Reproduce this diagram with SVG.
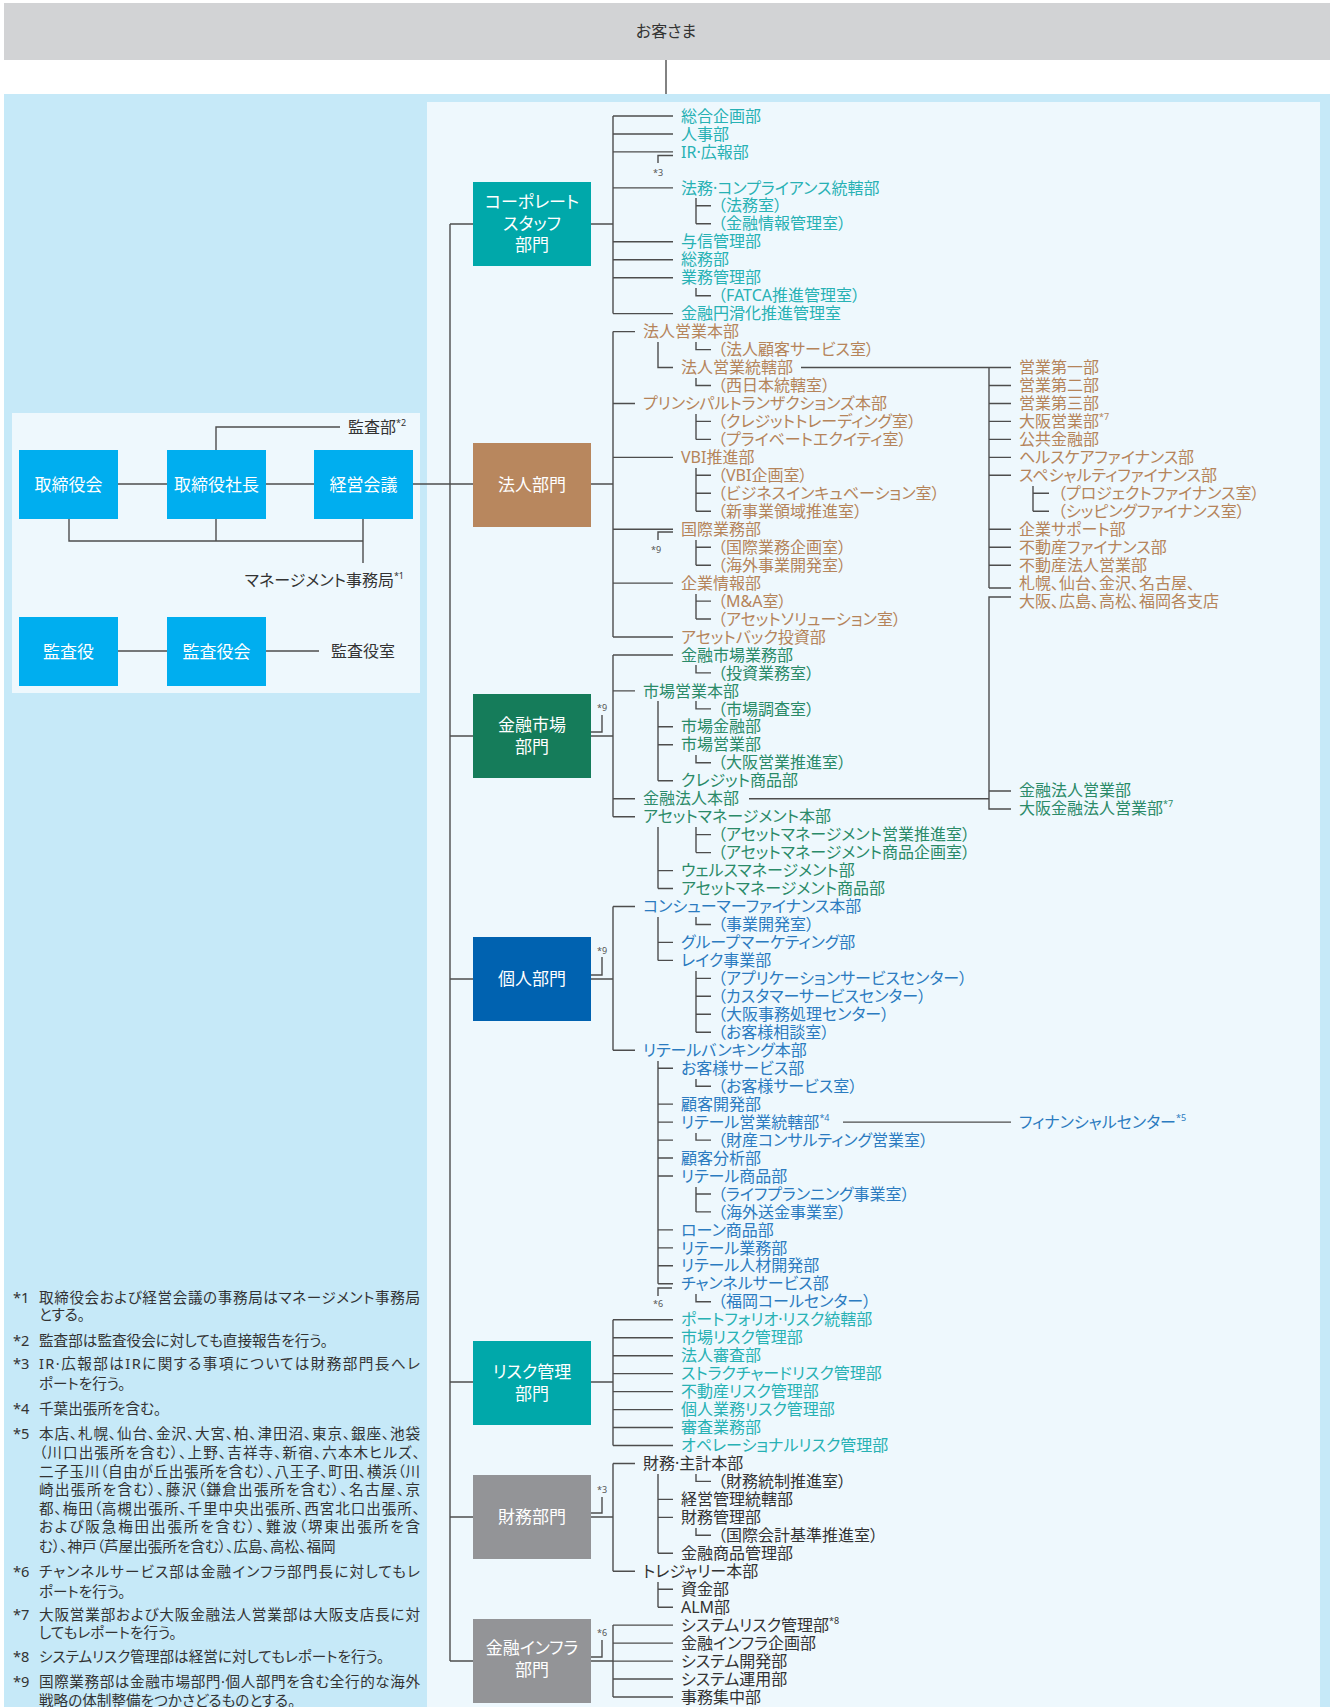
<svg xmlns="http://www.w3.org/2000/svg" width="1334" height="1707" viewBox="0 0 1334 1707">
<style>
text{font-family:"Noto Sans","Noto Sans CJK JP",sans-serif;font-feature-settings:"palt";}
.t{font-size:16px}
.teal{fill:#27b1b4}.brown{fill:#b5845a}.green{fill:#2a8a68}.blue{fill:#2b7bc0}.dark{fill:#333}
.bx{font-size:17px;fill:#fff;text-anchor:middle}
.sup{font-size:9px}
.mk{font-size:9px;fill:#555;text-anchor:middle}
.ln{stroke:#4d4d4d;stroke-width:1.4;fill:none}
.fn{font-size:14.6px;fill:#333}
.c-teal{fill:#00a8aa}.c-brown{fill:#b8875e}.c-green{fill:#157c5a}.c-blue{fill:#0062b0}.c-gray{fill:#939497}.c-cyan{fill:#00aeef}
</style>
<rect x="0" y="0" width="1334" height="1707" fill="#fff"/>
<rect x="4" y="94" width="1326" height="1613" fill="#c6e9f8"/>
<rect x="427" y="102" width="893" height="1605" fill="#eef8fd"/>
<rect x="12" y="413" width="408" height="280" fill="#eef8fd"/>

<g id="customer">
<rect x="4" y="3" width="1326" height="57" fill="#d2d3d5"/>
<text x="666" y="37" class="t dark" text-anchor="middle">お客さま</text>
</g>

<g id="connectors" class="ln">
<path d="M666 60V94"/>
<path d="M118 484H167M266 484H314M216 450V427H340M69 519V541H363M216 519V541M363 519V563M118 651H167M266 651H319M413 484H473"/>
<path d="M450 224V1661M450 224H473M450 736H473M450 979H473M450 1382H473M450 1517H473M450 1661H473"/>
<path d="M591 224H613M613 116V313.6M613 116H673M613 134H673M613 151.9H673M613 187.9H673M613 241.8H673M613 259.7H673M613 277.7H673M613 313.6H673"/>
<path d="M673 155.5H658V163M696 198V223.8M696 205.8H711M696 223.8H711M696 288V295.7H711"/>
<path d="M591 484H613M613 331.6V637M613 331.6H635M613 403.5H635M613 457.4H673M613 529.2H673M613 583.1H673M613 637H673"/>
<path d="M658 342V367.5H673M696 342V349.6H711M696 378V385.5H711M696 414V439.4M696 421.4H711M696 439.4H711M696 468V511.3M696 475.3H711M696 493.3H711M696 511.3H711M673 532H658V540M696 540V565.2M696 547.2H711M696 565.2H711M696 594V619M696 601.1H711M696 619H711"/>
<path d="M801 367.5H1011M989 367.5V588M989 385.5H1011M989 403.5H1011M989 421.4H1011M989 439.4H1011M989 457.4H1011M989 475.3H1011M989 529.2H1011M989 547.2H1011M989 565.2H1011M989 588H1011M1033 486V511.3M1033 493.3H1049M1033 511.3H1049"/>
<path d="M1011 597H989V809H1011M989 791H1011M749 798.7H989"/>
<path d="M591 736H613M613 655V816.7M613 655H673M613 690.9H635M613 798.7H635M613 816.7H635M591 732H602V715"/>
<path d="M696 665V672.9H711M658 701V780.7M658 726.8H673M658 744.8H673M658 780.7H673M696 701V708.9H711M696 755V762.8H711M658 827V888.5M658 870.6H673M658 888.5H673M696 827V852.6M696 834.6H711M696 852.6H711"/>
<path d="M591 979H613M613 906.5V1050.2M613 906.5H635M613 1050.2H635M591 975H602V957"/>
<path d="M658 917V960.4M658 942.4H673M658 960.4H673M696 917V924.5H711M696 971V1032.3M696 978.4H711M696 996.3H711M696 1014.3H711M696 1032.3H711"/>
<path d="M658 1061V1283.8M658 1068.2H673M658 1104.1H673M658 1122.1H673M658 1140.1H673M658 1158H673M658 1176H673M658 1229.9H673M658 1247.9H673M658 1265.8H673M658 1283.8H673M696 1079V1086.2H711M696 1133V1140.1H711M696 1187V1211.9M696 1194H711M696 1211.9H711M696 1294V1301.8H711M672 1288H658V1296M843 1122.1H1011"/>
<path d="M591 1382H613M613 1319.7V1445.5M613 1319.7H673M613 1337.7H673M613 1355.7H673M613 1373.6H673M613 1391.6H673M613 1409.6H673M613 1427.5H673M613 1445.5H673"/>
<path d="M591 1517H613M613 1463.5V1571.2M613 1463.5H635M613 1571.2H635M591 1513H602V1497M658 1474V1553.3M658 1499.4H673M658 1517.4H673M658 1553.3H673M696 1474V1481.4H711M696 1528V1535.3H711M658 1582V1607.2M658 1589.2H673M658 1607.2H673"/>
<path d="M591 1661H613M613 1625.1V1697M613 1625.1H673M613 1643.1H673M613 1661.1H673M613 1679H673M613 1697H673M591 1657H602V1640"/>
</g>

<g id="markers">
<text x="658" y="175.5" class="mk">*3</text>
<text x="656" y="553" class="mk">*9</text>
<text x="658" y="1307" class="mk">*6</text>
<text x="602" y="711" class="mk">*9</text>
<text x="602" y="954" class="mk">*9</text>
<text x="602" y="1493" class="mk">*3</text>
<text x="602" y="1636" class="mk">*6</text>
</g>

<g id="governance">
<g id="n-torishimariyakukai"><rect x="19" y="450" width="99" height="69" class="c-cyan"/><text x="68.5" y="490.5" class="bx">取締役会</text></g>
<g id="n-shacho"><rect x="167" y="450" width="99" height="69" class="c-cyan"/><text x="216.5" y="490.5" class="bx">取締役社長</text></g>
<g id="n-keiei"><rect x="314" y="450" width="99" height="69" class="c-cyan"/><text x="363.5" y="490.5" class="bx">経営会議</text></g>
<g id="n-kansayaku"><rect x="19" y="617" width="99" height="69" class="c-cyan"/><text x="68.5" y="657.5" class="bx">監査役</text></g>
<g id="n-kansayakukai"><rect x="167" y="617" width="99" height="69" class="c-cyan"/><text x="216.5" y="657.5" class="bx">監査役会</text></g>
<g id="n-kansabu"><text x="348" y="433" class="t dark">監査部<tspan class="sup" dy="-7">*2</tspan></text></g>
<g id="n-jimukyoku"><text x="404" y="586" class="t dark" text-anchor="end">マネージメント事務局<tspan class="sup" dy="-7">*1</tspan></text></g>
<g id="n-kansayakushitsu"><text x="331" y="657" class="t dark">監査役室</text></g>
</g>

<g id="divisions">
<g id="d-corp"><rect x="473" y="182" width="118" height="84" class="c-teal"/><text x="532" y="208" class="bx">コーポレート</text><text x="532" y="229.5" class="bx">スタッフ</text><text x="532" y="251" class="bx">部門</text></g>
<g id="d-houjin"><rect x="473" y="443" width="118" height="84" class="c-brown"/><text x="532" y="490.5" class="bx">法人部門</text></g>
<g id="d-market"><rect x="473" y="694" width="118" height="84" class="c-green"/><text x="532" y="731" class="bx">金融市場</text><text x="532" y="752.5" class="bx">部門</text></g>
<g id="d-kojin"><rect x="473" y="937" width="118" height="84" class="c-blue"/><text x="532" y="985" class="bx">個人部門</text></g>
<g id="d-risk"><rect x="473" y="1341" width="118" height="84" class="c-teal"/><text x="532" y="1378" class="bx">リスク管理</text><text x="532" y="1399.5" class="bx">部門</text></g>
<g id="d-zaimu"><rect x="473" y="1475" width="118" height="84" class="c-gray"/><text x="532" y="1523" class="bx">財務部門</text></g>
<g id="d-infra"><rect x="473" y="1619" width="118" height="84" class="c-gray"/><text x="532" y="1654" class="bx">金融インフラ</text><text x="532" y="1675.5" class="bx">部門</text></g>
</g>

<g id="list-corp" class="t teal">
<text x="681" y="121.6">総合企画部</text>
<text x="681" y="139.6">人事部</text>
<text x="681" y="157.5">IR·広報部</text>
<text x="681" y="193.5">法務·コンプライアンス統轄部</text>
<text x="718" y="211.4">（法務室）</text>
<text x="718" y="229.4">（金融情報管理室）</text>
<text x="681" y="247.4">与信管理部</text>
<text x="681" y="265.3">総務部</text>
<text x="681" y="283.3">業務管理部</text>
<text x="718" y="301.3">（FATCA推進管理室）</text>
<text x="681" y="319.2">金融円滑化推進管理室</text>
</g>

<g id="list-houjin" class="t brown">
<text x="643" y="337.2">法人営業本部</text>
<text x="718" y="355.2">（法人顧客サービス室）</text>
<text x="681" y="373.1">法人営業統轄部</text>
<text x="718" y="391.1">（西日本統轄室）</text>
<text x="643" y="409.1">プリンシパルトランザクションズ本部</text>
<text x="718" y="427">（クレジットトレーディング室）</text>
<text x="718" y="445">（プライベートエクイティ室）</text>
<text x="681" y="463">VBI推進部</text>
<text x="718" y="480.9">（VBI企画室）</text>
<text x="718" y="498.9">（ビジネスインキュベーション室）</text>
<text x="718" y="516.9">（新事業領域推進室）</text>
<text x="681" y="534.8">国際業務部</text>
<text x="718" y="552.8">（国際業務企画室）</text>
<text x="718" y="570.8">（海外事業開発室）</text>
<text x="681" y="588.7">企業情報部</text>
<text x="718" y="606.7">（M&amp;A室）</text>
<text x="718" y="624.6">（アセットソリューション室）</text>
<text x="681" y="642.6">アセットバック投資部</text>
</g>

<g id="list-houjin-sales" class="t brown">
<text x="1019" y="373.1">営業第一部</text>
<text x="1019" y="391.1">営業第二部</text>
<text x="1019" y="409.1">営業第三部</text>
<text x="1019" y="427">大阪営業部<tspan class="sup" dy="-7">*7</tspan></text>
<text x="1019" y="445">公共金融部</text>
<text x="1019" y="463">ヘルスケアファイナンス部</text>
<text x="1019" y="480.9">スペシャルティファイナンス部</text>
<text x="1058" y="498.9">（プロジェクトファイナンス室）</text>
<text x="1058" y="516.9">（シッピングファイナンス室）</text>
<text x="1019" y="534.8">企業サポート部</text>
<text x="1019" y="552.8">不動産ファイナンス部</text>
<text x="1019" y="570.8">不動産法人営業部</text>
<text x="1019" y="588.7">札幌、仙台、金沢、名古屋、</text>
<text x="1019" y="606.7">大阪、広島、高松、福岡各支店</text>
</g>

<g id="list-market" class="t green">
<text x="681" y="660.6">金融市場業務部</text>
<text x="718" y="678.5">（投資業務室）</text>
<text x="643" y="696.5">市場営業本部</text>
<text x="718" y="714.5">（市場調査室）</text>
<text x="681" y="732.4">市場金融部</text>
<text x="681" y="750.4">市場営業部</text>
<text x="718" y="768.4">（大阪営業推進室）</text>
<text x="681" y="786.3">クレジット商品部</text>
<text x="643" y="804.3">金融法人本部</text>
<text x="643" y="822.3">アセットマネージメント本部</text>
<text x="718" y="840.2">（アセットマネージメント営業推進室）</text>
<text x="718" y="858.2">（アセットマネージメント商品企画室）</text>
<text x="681" y="876.2">ウェルスマネージメント部</text>
<text x="681" y="894.1">アセットマネージメント商品部</text>
<text x="1019" y="795.6">金融法人営業部</text>
<text x="1019" y="813.6">大阪金融法人営業部<tspan class="sup" dy="-7">*7</tspan></text>
</g>

<g id="list-kojin" class="t blue">
<text x="643" y="912.1">コンシューマーファイナンス本部</text>
<text x="718" y="930.1">（事業開発室）</text>
<text x="681" y="948">グループマーケティング部</text>
<text x="681" y="966">レイク事業部</text>
<text x="718" y="984">（アプリケーションサービスセンター）</text>
<text x="718" y="1001.9">（カスタマーサービスセンター）</text>
<text x="718" y="1019.9">（大阪事務処理センター）</text>
<text x="718" y="1037.9">（お客様相談室）</text>
<text x="643" y="1055.8">リテールバンキング本部</text>
<text x="681" y="1073.8">お客様サービス部</text>
<text x="718" y="1091.8">（お客様サービス室）</text>
<text x="681" y="1109.7">顧客開発部</text>
<text x="681" y="1127.7">リテール営業統轄部<tspan class="sup" dy="-7">*4</tspan></text>
<text x="718" y="1145.7">（財産コンサルティング営業室）</text>
<text x="681" y="1163.6">顧客分析部</text>
<text x="681" y="1181.6">リテール商品部</text>
<text x="718" y="1199.6">（ライフプランニング事業室）</text>
<text x="718" y="1217.5">（海外送金事業室）</text>
<text x="681" y="1235.5">ローン商品部</text>
<text x="681" y="1253.5">リテール業務部</text>
<text x="681" y="1271.4">リテール人材開発部</text>
<text x="681" y="1289.4">チャンネルサービス部</text>
<text x="718" y="1307.4">（福岡コールセンター）</text>
<text x="1019" y="1127.7">フィナンシャルセンター<tspan class="sup" dy="-7">*5</tspan></text>
</g>

<g id="list-risk" class="t teal">
<text x="681" y="1325.3">ポートフォリオ·リスク統轄部</text>
<text x="681" y="1343.3">市場リスク管理部</text>
<text x="681" y="1361.3">法人審査部</text>
<text x="681" y="1379.2">ストラクチャードリスク管理部</text>
<text x="681" y="1397.2">不動産リスク管理部</text>
<text x="681" y="1415.2">個人業務リスク管理部</text>
<text x="681" y="1433.1">審査業務部</text>
<text x="681" y="1451.1">オペレーショナルリスク管理部</text>
</g>

<g id="list-zaimu" class="t dark">
<text x="643" y="1469.1">財務·主計本部</text>
<text x="718" y="1487">（財務統制推進室）</text>
<text x="681" y="1505">経営管理統轄部</text>
<text x="681" y="1523">財務管理部</text>
<text x="718" y="1540.9">（国際会計基準推進室）</text>
<text x="681" y="1558.9">金融商品管理部</text>
<text x="643" y="1576.8">トレジャリー本部</text>
<text x="681" y="1594.8">資金部</text>
<text x="681" y="1612.8">ALM部</text>
</g>

<g id="list-infra" class="t dark">
<text x="681" y="1630.7">システムリスク管理部<tspan class="sup" dy="-7">*8</tspan></text>
<text x="681" y="1648.7">金融インフラ企画部</text>
<text x="681" y="1666.7">システム開発部</text>
<text x="681" y="1684.6">システム運用部</text>
<text x="681" y="1702.6">事務集中部</text>
</g>

<g id="footnotes" class="fn">
<text x="13" y="1302.5">*1</text><text x="39" y="1302.5" textLength="381" lengthAdjust="spacing">取締役会および経営会議の事務局はマネージメント事務局</text>
<text x="39" y="1320">とする。</text>
<text x="13" y="1346">*2</text><text x="39" y="1346">監査部は監査役会に対しても直接報告を行う。</text>
<text x="13" y="1369">*3</text><text x="39" y="1369" textLength="381" lengthAdjust="spacing">IR·広報部はIRに関する事項については財務部門長へレ</text>
<text x="39" y="1388.5">ポートを行う。</text>
<text x="13" y="1413.5">*4</text><text x="39" y="1413.5">千葉出張所を含む。</text>
<text x="13" y="1438.5">*5</text><text x="39" y="1438.5" textLength="381" lengthAdjust="spacing">本店、札幌、仙台、金沢、大宮、柏、津田沼、東京、銀座、池袋</text>
<text x="39" y="1458" textLength="381" lengthAdjust="spacing">（川口出張所を含む）、上野、吉祥寺、新宿、六本木ヒルズ、</text>
<text x="39" y="1476.5" textLength="381" lengthAdjust="spacing">二子玉川（自由が丘出張所を含む）、八王子、町田、横浜（川</text>
<text x="39" y="1495.3" textLength="381" lengthAdjust="spacing">崎出張所を含む）、藤沢（鎌倉出張所を含む）、名古屋、京</text>
<text x="39" y="1513.5" textLength="381" lengthAdjust="spacing">都、梅田（高槻出張所、千里中央出張所、西宮北口出張所、</text>
<text x="39" y="1532.3" textLength="381" lengthAdjust="spacing">および阪急梅田出張所を含む）、難波（堺東出張所を含</text>
<text x="39" y="1552">む）、神戸（芦屋出張所を含む）、広島、高松、福岡</text>
<text x="13" y="1577">*6</text><text x="39" y="1577" textLength="381" lengthAdjust="spacing">チャンネルサービス部は金融インフラ部門長に対してもレ</text>
<text x="39" y="1596.5">ポートを行う。</text>
<text x="13" y="1619.5">*7</text><text x="39" y="1619.5" textLength="381" lengthAdjust="spacing">大阪営業部および大阪金融法人営業部は大阪支店長に対</text>
<text x="39" y="1638">してもレポートを行う。</text>
<text x="13" y="1662">*8</text><text x="39" y="1662">システムリスク管理部は経営に対してもレポートを行う。</text>
<text x="13" y="1687">*9</text><text x="39" y="1687" textLength="381" lengthAdjust="spacing">国際業務部は金融市場部門·個人部門を含む全行的な海外</text>
<text x="39" y="1705.5">戦略の体制整備をつかさどるものとする。</text>
</g>
</svg>
